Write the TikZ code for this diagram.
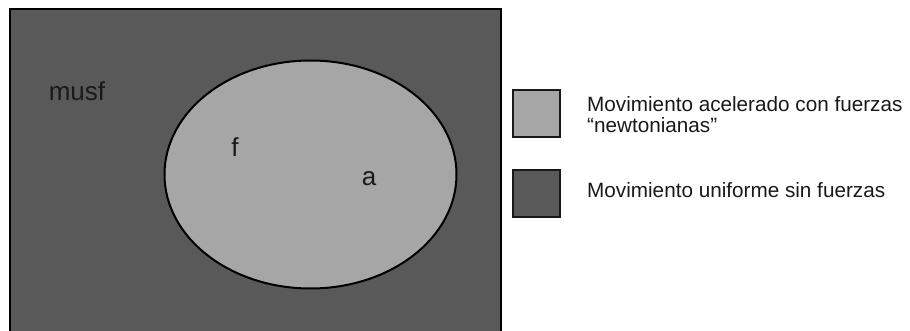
\documentclass[tikz,border=0pt]{standalone}
\usepackage{fontspec}
\setmainfont{Liberation Sans}
\usetikzlibrary{shapes.geometric,positioning}
\definecolor{darkfill}{HTML}{595959}
\definecolor{lightfill}{HTML}{A6A6A6}
\tikzset{
  region/.style={draw=black, line width=2pt},
  lbl/.style={inner sep=0pt, font=\fontsize{26}{26}\selectfont, text=black!90},
  keybox/.style={draw=black!90, line width=2pt, minimum size=47pt, inner sep=0pt},
  keytext/.style={inner sep=0pt, align=left, font=\fontsize{20.7}{21.5}\selectfont, text=black!90}
}
\begin{document}
\begin{tikzpicture}[x=1pt, y=-1pt]
  \useasboundingbox (0,0) rectangle (910,331);
  \clip (0,0) rectangle (910,331);
  % universe of motions
  \draw[region, fill=darkfill] (10,9) rectangle (501,345);
  \node[region, fill=lightfill, ellipse, minimum width=292pt, minimum height=228pt, inner sep=0pt] (acc) at (310.5,174.5) {};
  \node[lbl, anchor=base] (musf) at (77,101) {musf};
  \node[lbl, anchor=base] (f) at (235,157) {f};
  \node[lbl, anchor=base] (a) at (369,186) {a};
  % legend
  \node[keybox, fill=lightfill] (keyA) at (536.5,113.5) {};
  \node[keybox, fill=darkfill] (keyB) at (536.5,193.5) {};
  \node[keytext, right=26pt of keyA, yshift=-1pt] (txtA) {Movimiento acelerado con fuerzas\\“newtonianas”};
  \node[keytext, anchor=base west] (txtB) at (587,198) {Movimiento uniforme sin fuerzas};
\end{tikzpicture}
\end{document}
